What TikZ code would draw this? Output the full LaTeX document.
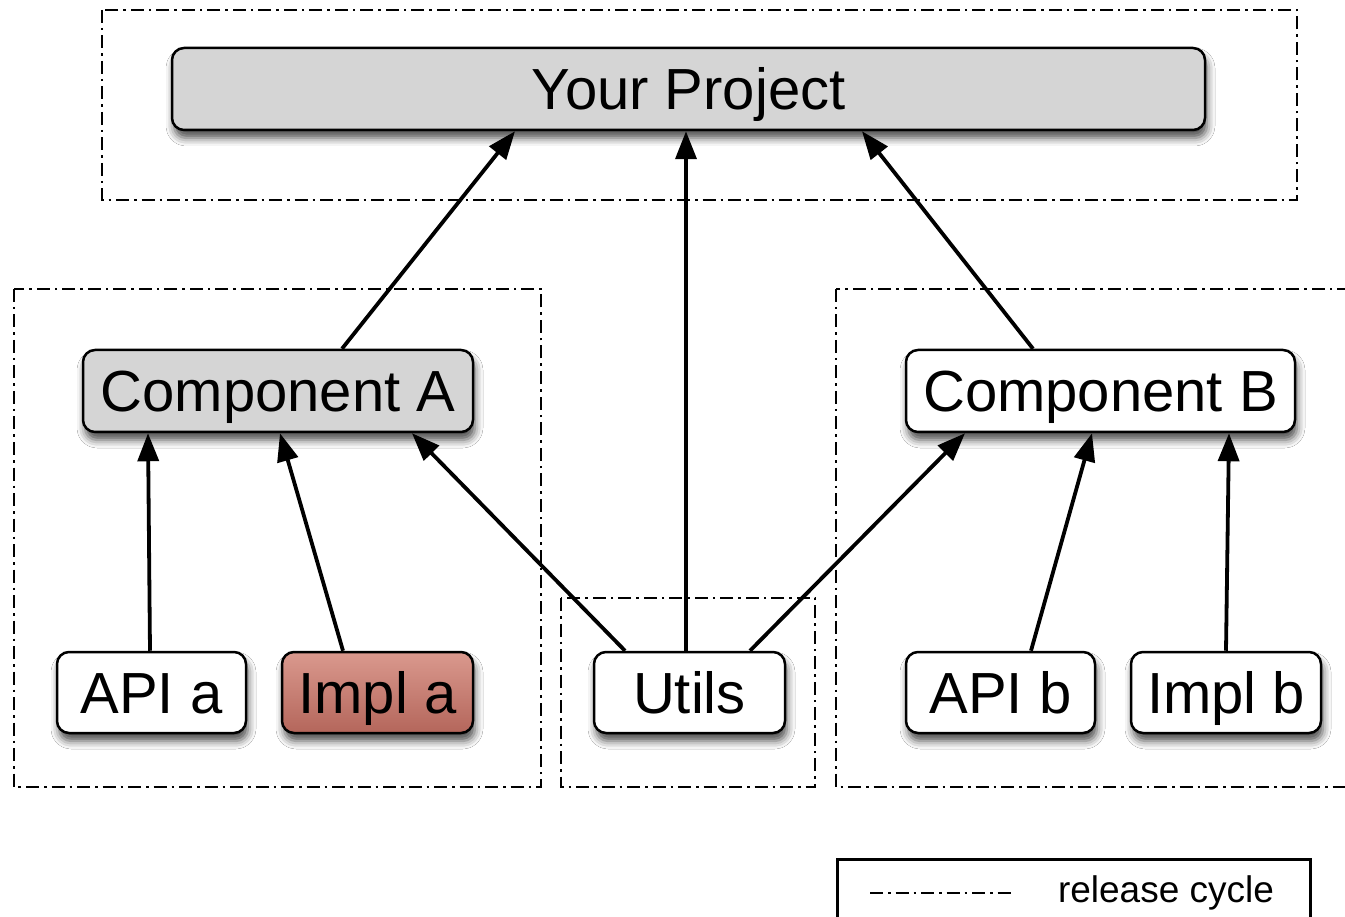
\documentclass[tikz,border=0pt]{standalone}
\usepackage{fontspec}
\setmainfont{Liberation Sans}
\usetikzlibrary{arrows.meta,shadows.blur,calc}
\definecolor{boxgray}{HTML}{D5D5D5}
\definecolor{impltop}{HTML}{DA998E}
\definecolor{implbot}{HTML}{B4665B}
\tikzset{
  module/.style={draw=black, line width=2.5pt, rounded corners=12pt, fill=white,
    inner sep=0pt, font=\fontsize{58}{68}\selectfont, text height=41pt, text depth=0pt,
    blur shadow={shadow xshift=2pt, shadow yshift=-8pt, shadow blur radius=8pt, shadow opacity=70}},
  cycle/.style={draw=black, line width=2.2pt, dash pattern=on 13pt off 5pt on 2.5pt off 5pt},
  dep/.style={line width=3.8pt, -{Triangle[length=28pt,width=21pt]}},
}
\begin{document}
\begin{tikzpicture}[x=1pt,y=-1pt]
  \clip (0,0) rectangle (1345,917);
  \useasboundingbox (0,0) rectangle (1345,917);
  \fill[white] (0,0) rectangle (1345,917);

  % release-cycle boundaries
  \draw[cycle] (102,10) rectangle (1297,200);
  \draw[cycle] (14,289) rectangle (541,787);
  \draw[cycle] (836,289) rectangle (1360,787);
  \draw[cycle] (561,598) rectangle (815,787);

  % modules
  \node[module, fill=boxgray, minimum width=1033pt, minimum height=82pt] (yp) at (688.5,89) {Your Project};
  \node[module, fill=boxgray, minimum width=390pt, minimum height=82pt] (ca) at (278,391) {Component A};
  \node[module, minimum width=389pt, minimum height=82pt] (cb) at (1100.5,391) {Component B};
  \node[module, minimum width=189pt, minimum height=81pt] (apia) at (151.5,692.5) {API a};
  \node[module, top color=impltop, bottom color=implbot, minimum width=191pt, minimum height=81pt] (impla) at (377.5,692.5) {Impl a};
  \node[module, minimum width=191pt, minimum height=81pt] (utils) at (689.5,692.5) {Utils};
  \node[module, minimum width=189pt, minimum height=81pt] (apib) at (1000.5,692.5) {API b};
  \node[module, minimum width=190pt, minimum height=81pt] (implb) at (1226,692.5) {Impl b};

  % dependencies
  \draw[dep] ([xshift=64pt]ca.north) -- ([xshift=-173.5pt]yp.south);
  \draw[dep] ([xshift=-3.5pt]utils.north) -- ([xshift=-2.5pt]yp.south);
  \draw[dep] ([xshift=-67.5pt]cb.north) -- ([xshift=173.5pt]yp.south);
  \draw[dep] ([xshift=-1.5pt]apia.north) -- ([xshift=-130pt]ca.south);
  \draw[dep] ([xshift=-34.5pt]impla.north) -- ([xshift=2pt]ca.south);
  \draw[dep] ([xshift=-64.5pt]utils.north) -- ([xshift=134pt]ca.south);
  \draw[dep] ([xshift=60.5pt]utils.north) -- ([xshift=-135.5pt]cb.south);
  \draw[dep] ([xshift=30.5pt]apib.north) -- ([xshift=-8.5pt]cb.south);
  \draw[dep] (implb.north) -- ([xshift=3pt]implb.north |- cb.south);

  % legend
  \node[draw=black, line width=2.5pt, minimum width=473pt, minimum height=120pt, anchor=north west, inner sep=0pt] (legend) at (836,858) {};
  \coordinate (ls) at (870,893);
  \coordinate (le) at (1015,893);
  \draw[cycle] (ls) -- (le);
  \node[font=\fontsize{37}{44}\selectfont, inner sep=0pt] (lt) at (1166,893) {release cycle};
\end{tikzpicture}
\end{document}
